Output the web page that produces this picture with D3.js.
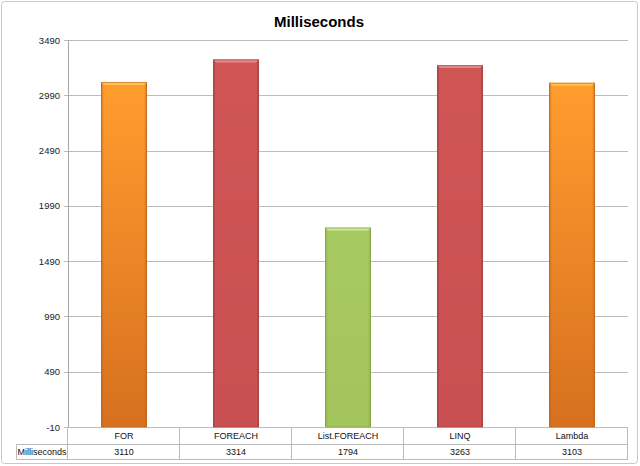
<!DOCTYPE html>
<html>
<head>
<meta charset="utf-8">
<script src="https://cdn.jsdelivr.net/npm/d3@7"></script>
<style>
  body { margin: 0; background: #fff; }
  svg { display: block; font-family: "Liberation Sans", Arial, sans-serif; }
</style>
</head>
<body>
<div class="chart"></div>
<script>
// Chart data
const categories = ["FOR", "FOREACH", "List.FOREACH", "LINQ", "Lambda"];
const values = [3110, 3314, 1794, 3263, 3103];
const colorKeys = ["orange", "red", "green", "red", "orange"];
const yTicks = [-10, 490, 990, 1490, 1990, 2490, 2990, 3490];
const seriesName = "Milliseconds";

const width = 640, height = 466;
const margin = { top: 40, right: 12, bottom: 39, left: 68 };
const plotW = width - margin.left - margin.right;
const plotH = height - margin.top - margin.bottom;

const svg = d3.select(".chart")
    .append("svg")
    .attr("width", width)
    .attr("height", height);

// gradients for the bars
const defs = svg.append("defs");
const palettes = {
    orange: { top: "#ff9d2e", bottom: "#d6701f", edge: "#c0651c", cap: "#ffc25a" },
    red: { top: "#d05656", bottom: "#c95050", edge: "#a84040", cap: "#e88a8a" },
    green: { top: "#a8ca62", bottom: "#a2c45a", edge: "#86a544", cap: "#cde49a" }
};
Object.entries(palettes).forEach(([k, p]) => {
    const g = defs.append("linearGradient").attr("id", "grad-" + k)
        .attr("x1", 0).attr("y1", 0).attr("x2", 0).attr("y2", 1);
    g.append("stop").attr("offset", "0%").attr("stop-color", p.top);
    g.append("stop").attr("offset", "100%").attr("stop-color", p.bottom);
    const e = defs.append("linearGradient").attr("id", "edge-" + k)
        .attr("x1", 0).attr("y1", 0).attr("x2", 1).attr("y2", 0);
    e.append("stop").attr("offset", "0%").attr("stop-color", p.edge).attr("stop-opacity", 0.8);
    e.append("stop").attr("offset", "6%").attr("stop-color", p.edge).attr("stop-opacity", 0);
    e.append("stop").attr("offset", "94%").attr("stop-color", p.edge).attr("stop-opacity", 0);
    e.append("stop").attr("offset", "100%").attr("stop-color", p.edge).attr("stop-opacity", 0.8);
});

// outer frame
svg.append("rect")
    .attr("x", 1.5).attr("y", 1.5)
    .attr("width", width - 4).attr("height", height - 4)
    .attr("rx", 3)
    .attr("fill", "#fff")
    .attr("stroke", "#c8c8c8");

// title
svg.append("text")
    .attr("x", 319)
    .attr("y", 27)
    .attr("text-anchor", "middle")
    .style("font-size", "15px")
    .style("font-weight", "bold")
    .attr("fill", "#000")
    .text(seriesName);

const g = svg.append("g")
    .attr("transform", "translate(" + margin.left + "," + margin.top + ")");

const x = d3.scaleBand()
    .domain(categories)
    .range([0, plotW])
    .paddingInner(0.59)
    .paddingOuter(0.295);

const y = d3.scaleLinear()
    .domain([-10, 3490])
    .range([plotH, 0]);

// gridlines
g.append("g")
    .selectAll("line")
    .data(yTicks)
    .join("line")
    .attr("x1", -4)
    .attr("x2", plotW)
    .attr("y1", d => Math.round(y(d)) + 0.5)
    .attr("y2", d => Math.round(y(d)) + 0.5)
    .attr("stroke", "#bcbcbc")
    .attr("stroke-width", 1);

// y axis labels
g.append("g")
    .selectAll("text")
    .data(yTicks)
    .join("text")
    .attr("x", -8)
    .attr("y", d => y(d) + 3.5)
    .attr("text-anchor", "end")
    .style("font-size", "9.5px")
    .attr("fill", "#222")
    .text(d => d);

// y axis line
g.append("line")
    .attr("x1", 0.5).attr("x2", 0.5)
    .attr("y1", 0).attr("y2", plotH)
    .attr("stroke", "#a8a8a8");

// bars
const bars = g.append("g")
    .selectAll("g")
    .data(categories.map((c, i) => ({ c, v: values[i], k: colorKeys[i] })))
    .join("g");

bars.append("rect")
    .attr("x", d => x(d.c))
    .attr("y", d => y(d.v))
    .attr("width", x.bandwidth())
    .attr("height", d => y(-10) - y(d.v))
    .attr("fill", d => "url(#grad-" + d.k + ")");

bars.append("rect")
    .attr("x", d => x(d.c))
    .attr("y", d => y(d.v))
    .attr("width", x.bandwidth())
    .attr("height", d => y(-10) - y(d.v))
    .attr("fill", d => "url(#edge-" + d.k + ")");

// bevel cap on top
bars.append("path")
    .attr("d", d => {
        const x0 = x(d.c), x1 = x0 + x.bandwidth(), y0 = y(d.v);
        return `M${x0},${y0}L${x1},${y0}L${x1 - 3},${y0 + 3}L${x0 + 3},${y0 + 3}Z`;
    })
    .attr("fill", d => palettes[d.k].cap);

bars.append("rect")
    .attr("x", d => x(d.c) + 0.5)
    .attr("y", d => y(d.v) + 0.5)
    .attr("width", x.bandwidth() - 1)
    .attr("height", d => y(-10) - y(d.v) - 0.5)
    .attr("fill", "none")
    .attr("stroke", d => palettes[d.k].edge)
    .attr("stroke-opacity", 0.6);

// data table
const tTop = Math.round(plotH);
const row1 = tTop + 17;
const row2 = tTop + 32;
const table = g.append("g");
const lineColor = "#bcbcbc";

// horizontal lines
[[-52, plotW, row1], [-52, plotW, row2]].forEach(l => {
    table.append("line")
        .attr("x1", l[0]).attr("x2", l[1])
        .attr("y1", l[2] + 0.5).attr("y2", l[2] + 0.5)
        .attr("stroke", lineColor);
});
// vertical lines
const colEdges = [0].concat(categories.map(c => x(c) + x.bandwidth() / 2 + x.step() / 2));
colEdges.forEach(e => {
    table.append("line")
        .attr("x1", Math.round(e) - 0.5).attr("x2", Math.round(e) - 0.5)
        .attr("y1", tTop).attr("y2", row2 + 1)
        .attr("stroke", lineColor);
});
table.append("line")
    .attr("x1", -51.5).attr("x2", -51.5)
    .attr("y1", row1)
    .attr("y2", row2 + 1)
    .attr("stroke", lineColor);

table.selectAll(".cat")
    .data(categories)
    .join("text")
    .attr("class", "cat")
    .attr("x", d => x(d) + x.bandwidth() / 2)
    .attr("y", tTop + 12)
    .attr("text-anchor", "middle")
    .style("font-size", "9px")
    .attr("fill", "#111")
    .text(d => d);

table.selectAll(".val")
    .data(values)
    .join("text")
    .attr("class", "val")
    .attr("x", (d, i) => x(categories[i]) + x.bandwidth() / 2)
    .attr("y", tTop + 28)
    .attr("text-anchor", "middle")
    .style("font-size", "9px")
    .attr("fill", "#111")
    .text(d => d);

table.append("text")
    .attr("x", -26)
    .attr("y", tTop + 28)
    .attr("text-anchor", "middle")
    .style("font-size", "9px")
    .attr("fill", "#111")
    .text(seriesName);
</script>
</body>
</html>
